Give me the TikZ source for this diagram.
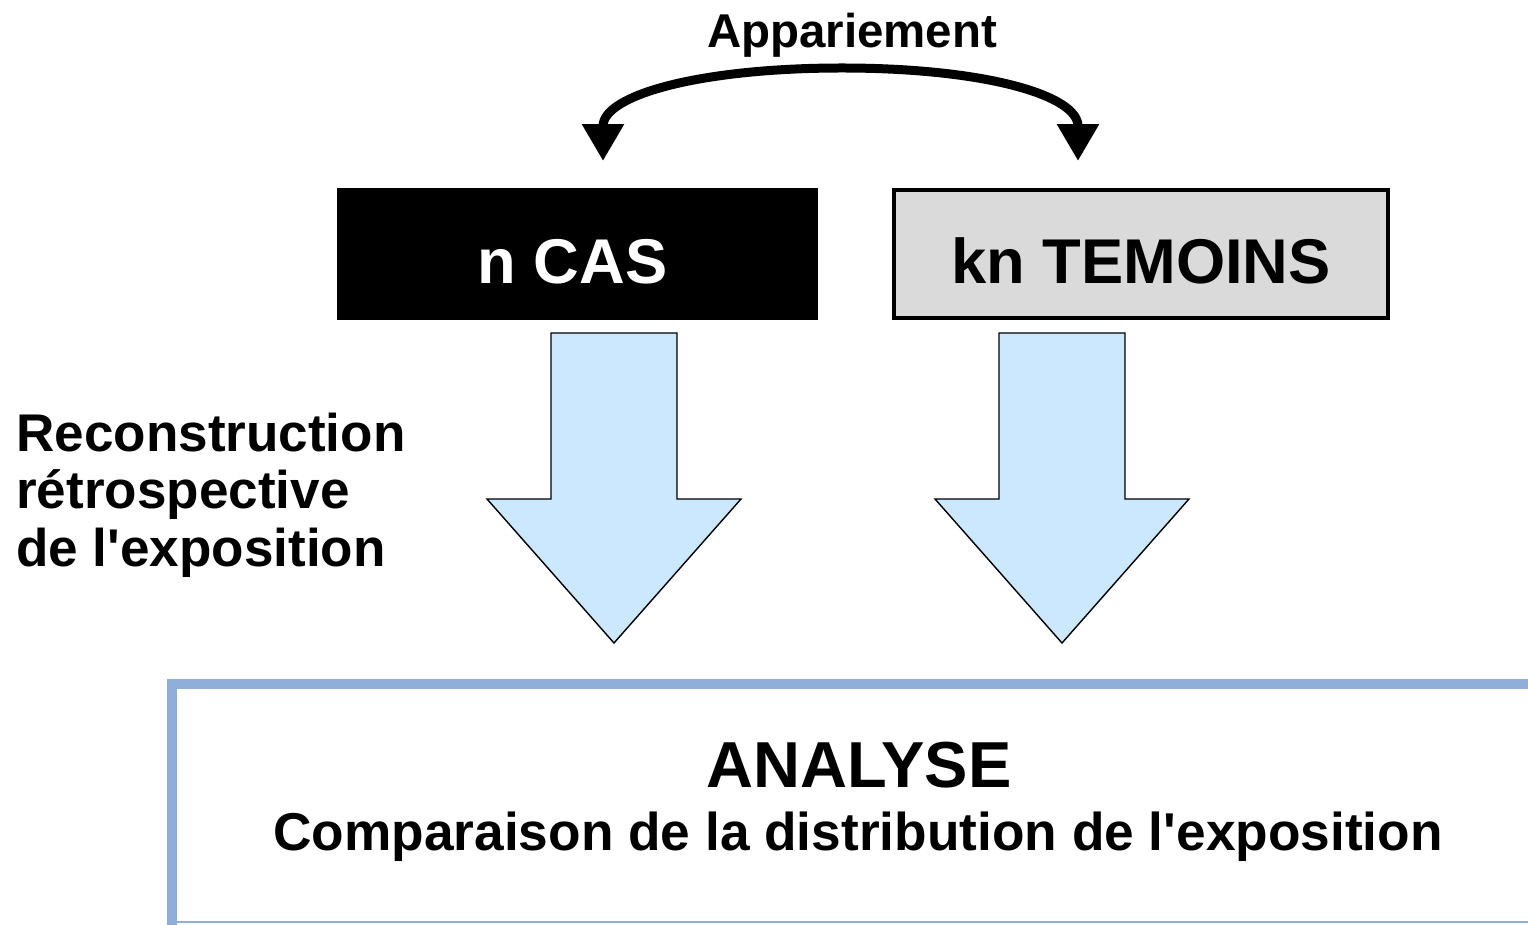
\documentclass[tikz,border=0pt]{standalone}
\usepackage{fontspec}
\setmainfont{Liberation Sans}[Ligatures=TeXOff]
\usetikzlibrary{arrows.meta,positioning}
\definecolor{bleuclair}{HTML}{CCE8FF}
\definecolor{grisclair}{HTML}{DADADA}
\definecolor{bleucadre}{HTML}{8FAFDA}
\begin{document}
\begin{tikzpicture}[x=0.02cm,y=-0.02cm,
	boite/.style={inner sep=0pt,text height=1.17cm,text depth=0pt,font=\fontsize{36}{40}\selectfont\bfseries},
	fleche/.style={fill=bleuclair,draw=black,line width=0.8pt},
	titre/.style={anchor=base,inner sep=0pt,font=\bfseries}]
	\useasboundingbox (0,0) rectangle (1528,925);
	% les deux groupes
	\node[boite,fill=black,text=white,minimum width=9.62cm,minimum height=2.64cm] (cas) at (577.5,254) {\hspace*{-0.2cm}n CAS};
	\node[boite,fill=grisclair,draw=black,line width=0.08cm,minimum width=9.88cm,minimum height=2.56cm] (temoins) at (1141,254) {kn TEMOINS};
	% appariement
	\path (852,48) node[titre,font=\fontsize{27}{30}\selectfont\bfseries] (app) {Appariement};
	\coordinate (apg) at (603,161);
	\coordinate (apd) at (1078,161);
	\draw[line width=0.18cm,{Triangle[width=0.8cm,length=0.74cm]}-{Triangle[width=0.8cm,length=0.74cm]}]
	(apg) .. controls (603,95) and (700,68) .. (842,68) .. controls (984,68) and (1078,95) .. (apd);
	% grosses fleches
	\foreach \cx in {614,1062} \draw[fleche]
	(\cx-63,333)--(\cx+63,333)--(\cx+63,499)--(\cx+127,499)--(\cx,643)--(\cx-127,499)--(\cx-63,499)--cycle;
	\foreach \y/\texte in {452/Reconstruction,509/rétrospective,566/de l'exposition} \path
	(16,\y) node[anchor=base west,inner sep=0pt,font=\fontsize{30.2}{32}\selectfont\bfseries] (r\y) {\texte};
	% analyse
	\draw[bleucadre,line width=0.04cm] (172,922) rectangle (1600,684);
	\draw[bleucadre,line width=0.2cm] (172,930)--(172,684)--(1600,684);
	\path (859,787) node[titre,font=\fontsize{37}{40}\selectfont\bfseries] (analyse) {ANALYSE};
	\path (858,850) node[titre,font=\fontsize{30.3}{32}\selectfont\bfseries] (comp) {Comparaison de la distribution de l'exposition};
\end{tikzpicture}
\end{document}
